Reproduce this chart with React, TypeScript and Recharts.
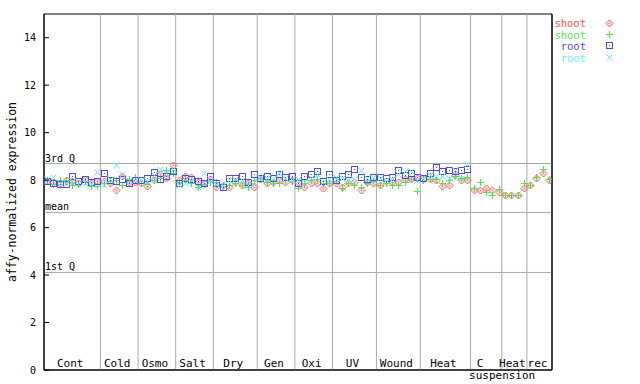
import { ComposedChart, Scatter, XAxis, YAxis, ReferenceLine, ReferenceArea, Legend } from 'recharts';

// experiment groups along the x axis, and how many samples each holds
const groupNames = ['Cont', 'Cold', 'Osmo', 'Salt', 'Dry', 'Gen', 'Oxi', 'UV', 'Wound', 'Heat', 'C', 'Heat', 'rec'];
const groupSizes = [9, 6, 6, 6, 7, 6, 6, 7, 7, 8, 5, 4, 4];

const yTicks = [0, 2, 4, 6, 8, 10, 12, 14];

const quartileLabels = ['3rd Q', 'mean', '1st Q'];
const quartileValues = [8.7, 6.64, 4.11];

// shoot, replicate 1 (red)
const shootRep1 = [
  7.95, 7.92, 7.88, 8.0, 7.98, 7.9, 8.05, 7.86, 7.95,
  7.95, 7.9, 7.58, 8.18, 7.93, 7.93,
  7.86, 7.74, 8.0, 8.24, 8.1, 8.63,
  8.0, 8.18, 8.14, 7.93, 7.9, 8.04,
  7.72, 7.8, 7.72, 7.93, 7.81, 7.86, 7.72,
  8.04, 7.9, 7.93, 8.0, 7.93, 8.0,
  7.93, 7.72, 7.86, 7.86, 7.65, 7.86,
  7.86, 7.72, 7.86, 7.93, 7.58, 7.93, 7.86,
  7.81, 7.95, 7.93, 7.93, 8.04, 8.04, 8.1,
  8.04, 8.04, 8.0, 7.76, 7.81, 8.21, 8.0, 8.0,
  7.6, 7.58, 7.65, 7.59, 7.48,
  7.39, 7.37, 7.37, 7.67,
  7.81, 8.07, 8.32, 8.0,
];

// shoot, replicate 2 (green)
const shootRep2 = [
  8.0, 7.85, 8.0, 8.0, 7.8, 7.85, 7.95, 7.75, 7.75,
  7.86, 7.95, 8.0, 7.8, 8.05, 8.15,
  7.9, 7.85, 8.0, 8.1, 8.42, 8.28,
  7.93, 8.0, 7.9, 7.72, 7.85, 7.93,
  7.93, 7.75, 7.8, 7.9, 7.81, 7.72, 8.0,
  8.1, 7.93, 7.86, 7.9, 8.0, 7.95,
  7.65, 7.86, 8.0, 8.04, 7.86, 7.86,
  7.95, 7.67, 7.86, 7.81, 7.72, 7.86, 7.95,
  7.79, 7.9, 7.81, 7.81, 7.93, 8.04, 7.53,
  8.0, 8.04, 8.04, 7.9, 8.0, 8.18, 8.07, 8.14,
  7.65, 7.93, 7.51, 7.37, 7.62,
  7.39, 7.37, 7.37, 7.86,
  7.81, 8.14, 8.46, 8.04,
];

// root, replicate 1 (blue) - no root samples for the cell culture groups
const rootRep1 = [
  7.95, 7.86, 7.82, 7.82, 8.18, 7.95, 8.04, 7.93, 7.97,
  8.28, 8.0, 7.95, 8.04, 7.9, 8.0,
  8.0, 8.07, 8.35, 8.04, 8.17, 8.39,
  7.86, 8.11, 8.04, 7.95, 7.86, 8.18,
  7.9, 7.72, 8.07, 8.11, 8.17, 7.93, 8.25,
  8.07, 8.17, 8.07, 8.24, 8.14, 8.18,
  7.86, 8.17, 8.25, 8.39, 7.97, 8.25,
  8.0, 8.18, 8.25, 8.45, 8.14, 8.04, 8.14,
  8.14, 8.11, 8.14, 8.42, 8.21, 8.28, 8.14,
  8.1, 8.32, 8.56, 8.39, 8.42, 8.38, 8.42, 8.49,
];

// root, replicate 2 (cyan)
const rootRep2 = [
  8.05, 8.15, 7.9, 7.9, 7.95, 7.85, 7.9, 7.85, 8.35,
  7.78, 8.05, 8.63, 8.24, 8.0, 8.0,
  8.0, 7.95, 8.2, 8.49, 8.3, 8.45,
  7.81, 7.86, 8.0, 7.72, 8.28, 7.95,
  7.85, 7.79, 8.0, 8.05, 8.0, 7.81, 7.93,
  8.14, 8.1, 8.07, 8.32, 8.1, 8.0,
  8.04, 7.93, 8.1, 8.24, 7.93, 8.04,
  8.14, 8.1, 8.0, 8.04, 8.42, 8.07, 8.14,
  8.07, 8.0, 8.04, 8.24, 8.38, 8.38, 8.0,
  8.1, 8.21, 8.18, 8.18, 8.07, 8.42, 8.07, 8.7,
];

const RED = '#ff4c4c';
const GREEN = '#4ce64c';
const BLUE = '#4848ff';
const CYAN = '#5cf2f2';
const GRID = '#a8a8a8';
const FONT = '"DejaVu Sans Mono", monospace';

const PLOT_LEFT = 44;
const PLOT_RIGHT = 552;
const PLOT_BOTTOM = 370;

const nSamples = groupSizes.reduce((a, b) => a + b, 0);
const groupStarts = groupSizes.map((_, i) => groupSizes.slice(0, i).reduce((a, b) => a + b, 0));
const groupCenters = groupStarts.map((s, i) => s + groupSizes[i] / 2);
const boundaries = groupStarts.slice(1);

const toPoints = (vals: number[]) => vals.map((v, i) => ({ x: i + 0.5, y: v }));

const px = (v: number) => Math.round(v) + 0.5;

function Marker({ kind, cx, cy, color }: { kind: string; cx: number; cy: number; color: string }) {
  const x = px(cx);
  const y = px(cy);
  if (kind === 'diamond') {
    return (
      <g>
        <polygon points={`${x},${y - 3.5} ${x + 3.5},${y} ${x},${y + 3.5} ${x - 3.5},${y}`} fill="none" stroke={color} />
        <rect x={x - 1} y={y - 1} width={2} height={2} fill={color} opacity={0.7} />
      </g>
    );
  }
  if (kind === 'plus') {
    return (
      <g stroke={color} shapeRendering="crispEdges">
        <line x1={x - 3.5} x2={x + 3.5} y1={y} y2={y} />
        <line x1={x} x2={x} y1={y - 3.5} y2={y + 3.5} />
      </g>
    );
  }
  if (kind === 'square') {
    return (
      <g shapeRendering="crispEdges">
        <rect x={x - 3} y={y - 3} width={6} height={6} fill="none" stroke={color} strokeWidth={1.3} />
        <rect x={x - 0.5} y={y - 0.5} width={1} height={1} fill={color} />
      </g>
    );
  }
  return (
    <g stroke={color}>
      <line x1={x - 3} x2={x + 3} y1={y - 3} y2={y + 3} />
      <line x1={x - 3} x2={x + 3} y1={y + 3} y2={y - 3} />
    </g>
  );
}

const series = [
  { name: 'shoot', values: shootRep1, color: RED, kind: 'diamond' },
  { name: 'shoot', values: shootRep2, color: GREEN, kind: 'plus' },
  { name: 'root', values: rootRep1, color: BLUE, kind: 'square' },
  { name: 'root', values: rootRep2, color: CYAN, kind: 'cross' },
];

function LeftTick({ y, payload }: any) {
  return (
    <g>
      <text x={36} y={y} dy={3.5} textAnchor="end" fontSize={10} fontFamily={FONT} fill="#000">
        {payload.value}
      </text>
      <line x1={PLOT_LEFT} x2={PLOT_LEFT + 5} y1={y} y2={y} stroke="#000" />
    </g>
  );
}

function RightTick({ y }: any) {
  return <line x1={PLOT_RIGHT - 5} x2={PLOT_RIGHT} y1={y} y2={y} stroke="#000" />;
}

function GroupTick({ x, payload }: any) {
  const idx = groupCenters.indexOf(payload.value);
  const name = groupNames[idx];
  if (name === 'C') {
    return (
      <g fontFamily={FONT} fontSize={11} fill="#000">
        <text x={x - 6} y={PLOT_BOTTOM - 3} textAnchor="middle">C</text>
        <text x={x + 16} y={PLOT_BOTTOM + 9} textAnchor="middle">suspension</text>
      </g>
    );
  }
  return (
    <text x={x - 2} y={PLOT_BOTTOM - 3} textAnchor="middle" fontFamily={FONT} fontSize={11} fill="#000">
      {name}
    </text>
  );
}

function LegendBox() {
  return (
    <svg width={640} height={72} style={{ display: 'block' }}>
      {series.map((s, i) => (
        <g key={i}>
          <text x={586} y={27 + i * 11.7} textAnchor="end" fontFamily={FONT} fontSize={10.5} fill={s.color}>
            {s.name}
          </text>
          <Marker kind={s.kind} cx={609} cy={23 + i * 11.2} color={s.color} />
        </g>
      ))}
    </svg>
  );
}

export default function App() {
  return (
    <div style={{ position: 'absolute', left: 0, top: 0, width: 640, height: 384, background: '#fff' }}>
      <ComposedChart width={640} height={384} margin={{ top: 14, right: 87, bottom: 0, left: 0 }}>
        <XAxis
          type="number"
          dataKey="x"
          domain={[0, nSamples]}
          ticks={groupCenters}
          interval={0}
          height={14}
          tickLine={false}
          axisLine={{ stroke: '#000' }}
          tick={GroupTick}
          allowDataOverflow
        />
        <YAxis
          yAxisId="l"
          type="number"
          dataKey="y"
          domain={[0, 15]}
          ticks={yTicks}
          width={44}
          tickLine={false}
          axisLine={{ stroke: '#000' }}
          tick={LeftTick}
          label={() => (
            <text
              x={16}
              y={192}
              transform="rotate(-90 16 192)"
              textAnchor="middle"
              fontFamily={FONT}
              fontSize={11.5}
              fill="#000"
            >
              affy-normalized expression
            </text>
          )}
        />
        <YAxis
          yAxisId="r"
          orientation="right"
          type="number"
          domain={[0, 15]}
          ticks={yTicks}
          width={1}
          tickLine={false}
          axisLine={{ stroke: '#000' }}
          tick={RightTick}
        />
        {boundaries.map((b) => (
          <ReferenceLine key={b} x={b} yAxisId="l" stroke={GRID} />
        ))}
        {quartileValues.map((v, i) => (
          <ReferenceLine
            key={quartileLabels[i]}
            y={v}
            yAxisId="l"
            stroke={GRID}
            label={(p: any) => (
              <text x={p.viewBox.x + 1} y={p.viewBox.y - 2} fontFamily={FONT} fontSize={10} fill="#000">
                {quartileLabels[i]}
              </text>
            )}
          />
        ))}
        <ReferenceArea x1={0} x2={nSamples} y1={0} y2={15} yAxisId="l" fill="none" stroke="#000" ifOverflow="visible" />
        {series.map((s, i) => (
          <Scatter
            key={i}
            name={s.name}
            yAxisId="l"
            data={toPoints(s.values)}
            isAnimationActive={false}
            shape={(p: any) => <Marker kind={s.kind} cx={p.cx} cy={p.cy} color={s.color} />}
          />
        ))}
        <Legend
          layout="vertical"
          align="center"
          verticalAlign="middle"
          wrapperStyle={{ position: 'absolute', left: 0, top: 0, width: 640, height: 72 }}
          content={() => <LegendBox />}
        />
      </ComposedChart>
    </div>
  );
}
